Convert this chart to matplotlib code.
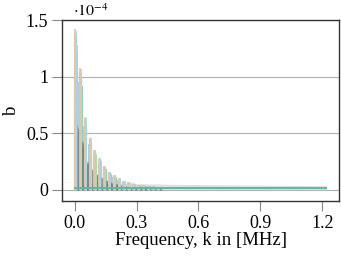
import numpy as np
import matplotlib
matplotlib.use("Agg")
import matplotlib.pyplot as plt
from matplotlib.ticker import FuncFormatter

plt.rcParams["font.family"] = ["Liberation Serif", "DejaVu Serif"]
plt.rcParams["mathtext.fontset"] = "stix"

# harmonic peaks of the spectrum (k in MHz, b in units of 1e-4)
peak_k = [0.005, 0.028, 0.051, 0.075, 0.098, 0.122, 0.145, 0.169, 0.192,
          0.216, 0.239, 0.263, 0.286, 0.310, 0.333, 0.357, 0.380, 0.404]
peak_b = [1.42, 1.08, 0.64, 0.46, 0.35, 0.28, 0.21, 0.16, 0.13,
          0.10, 0.08, 0.065, 0.055, 0.045, 0.04, 0.035, 0.03, 0.028]
# flat tail of the spectrum
tail_k = [0.0, 0.40, 0.60, 0.90, 1.22]
tail_b = [0.06, 0.05, 0.045, 0.04, 0.035]
# relative level of each run and its bin shift
run_scale = [0.85, 0.88, 0.9, 0.93, 0.95, 0.97, 0.99, 1.0]
run_shift = [0.006, -0.0045, 0.0045, 0.0, 0.0015, -0.0015, 0.003, -0.003]
run_colors = ["#7fcdbb", "#9ecae1", "#b5e0a0", "#c9b6e4", "#f4b6c2",
              "#bdbdbd", "#a8d8ea", "#e0c9a8"]

xticks = [0.0, 0.3, 0.6, 0.9, 1.2]
yticks = [0, 0.5, 1, 1.5]

fig = plt.figure(figsize=(3.41, 2.6), dpi=100)
ax = fig.add_axes([0.182, 0.227, 0.812, 0.696])

scale = 1e-4
k = np.array(peak_k)
b = np.array(peak_b) * scale

ax.fill_between(tail_k, 0, np.array(tail_b) * scale, color="#c8c8c8", alpha=0.6, lw=0, zorder=2)
for s, dk, c in zip(run_scale, run_shift, run_colors):
    ax.vlines(k + dk, 0, b * s, colors=c, lw=1.5, alpha=0.85, zorder=3)
    ax.vlines(k + dk + 0.011, 0, b * s * 0.4, colors="#555555", lw=0.6, alpha=0.3, zorder=3)
ax.plot([tail_k[0], tail_k[-1]], [0.012 * scale, 0.012 * scale], color="#5cb8a6", lw=1.4, zorder=4)

ax.set_xlim(-0.061, 1.281)
ax.set_ylim(-0.1 * scale, 1.5 * scale)
ax.set_xticks(xticks)
ax.set_xticklabels(["%.1f" % t for t in xticks])
ax.set_yticks([t * scale for t in yticks])
ax.yaxis.set_major_formatter(FuncFormatter(lambda v, p: "%g" % round(v / scale, 3)))
ax.grid(axis="y", color="#b0b0b0", lw=0.8)
ax.set_axisbelow(True)
ax.tick_params(direction="out", length=7, color="#888888", labelsize=13, pad=3)
for sp in ax.spines.values():
    sp.set_color("#333333")
    sp.set_linewidth(1.0)

ax.set_xlabel("Frequency, k in [MHz]", fontsize=13.5, labelpad=0)
ax.set_ylabel("b", fontsize=13.5)
ax.text(0.04, 1.0, r"$\cdot 10^{-4}$", transform=ax.transAxes, fontsize=11.5, va="bottom")

fig.savefig("out.png", dpi=100)
